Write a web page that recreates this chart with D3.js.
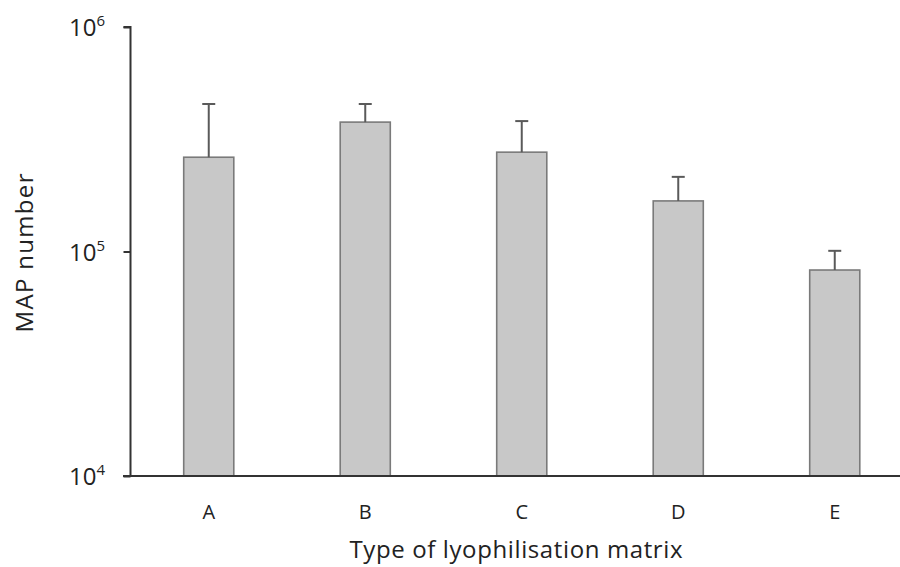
<!DOCTYPE html>
<html><head><meta charset="utf-8">
<script src="https://cdn.jsdelivr.net/npm/d3@7"></script>
<style>body{margin:0;background:#fff}svg{display:block}text{font-family:"Open Sans",sans-serif;fill:#222}</style>
</head><body><svg id="c" width="900" height="567"></svg>
<script>
const categories = ["A","B","C","D","E"];
const means = [263000, 377000, 277000, 168000, 82700];
const errors = [191000, 77000, 104000, 47000, 18000];
const yTicks = [1e4, 1e5, 1e6];
const yExponents = ["4","5","6"];

const svg = d3.select("#c");
const x = d3.scaleBand().domain(categories).range([130.5, 913]).paddingInner(0.68).paddingOuter(0.34);
const y = d3.scaleLog().domain([1e4, 1e6]).range([476, 27]);

// bars
svg.selectAll("rect.bar").data(categories).enter().append("rect")
  .attr("x", d => x(d)).attr("width", x.bandwidth())
  .attr("y", (d,i) => y(means[i])).attr("height", (d,i) => y(1e4) - y(means[i]))
  .attr("fill", "#c8c8c8").attr("stroke", "#7a7a7a").attr("stroke-width", 1.6);

// error bars
const eg = svg.append("g").attr("stroke", "#5a5a5a").attr("stroke-width", 2).attr("fill","none");
categories.forEach((c,i) => {
  const cx = x(c) + x.bandwidth()/2;
  eg.append("line").attr("x1", cx).attr("x2", cx).attr("y1", y(means[i])).attr("y2", y(means[i]+errors[i]));
  eg.append("line").attr("x1", cx-6.5).attr("x2", cx+6.5).attr("y1", y(means[i]+errors[i])).attr("y2", y(means[i]+errors[i]));
});

// y axis
const yAxis = d3.axisLeft(y).tickValues(yTicks).tickSize(7).tickFormat("");
const ya = svg.append("g").attr("transform", "translate(130.5,0)").call(yAxis);
ya.select(".domain").attr("stroke", "#333").attr("stroke-width", 2).attr("d", `M-7,${y(1e6)}H0V${y(1e4)}`);
ya.selectAll(".tick line").attr("stroke", "#333").attr("stroke-width", 2);
yTicks.forEach((t,i) => {
  const tx = svg.append("text").attr("x", 105).attr("y", y(t) + 9).attr("text-anchor","end").style("font-size","24px");
  tx.append("tspan").text("10");
  tx.append("tspan").attr("dy", -10).style("font-size","15px").text(yExponents[i]);
});

// x axis
svg.append("line").attr("x1", 123).attr("x2", 900).attr("y1", y(1e4)).attr("y2", y(1e4))
  .attr("stroke", "#333").attr("stroke-width", 2);
svg.selectAll("text.xl").data(categories).enter().append("text")
  .attr("x", d => x(d) + x.bandwidth()/2).attr("y", 519).attr("text-anchor","middle")
  .style("font-size","20px").text(d => d);

// titles
svg.append("text").attr("x", 516).attr("y", 558).attr("text-anchor","middle").style("font-size","24px")
  .attr("textLength", 333).attr("lengthAdjust","spacing")
  .text("Type of lyophilisation matrix");
svg.append("text").attr("transform","translate(33,253) rotate(-90)").attr("text-anchor","middle").style("font-size","24px")
  .attr("textLength", 159).attr("lengthAdjust","spacing")
  .text("MAP number");
</script></body></html>
